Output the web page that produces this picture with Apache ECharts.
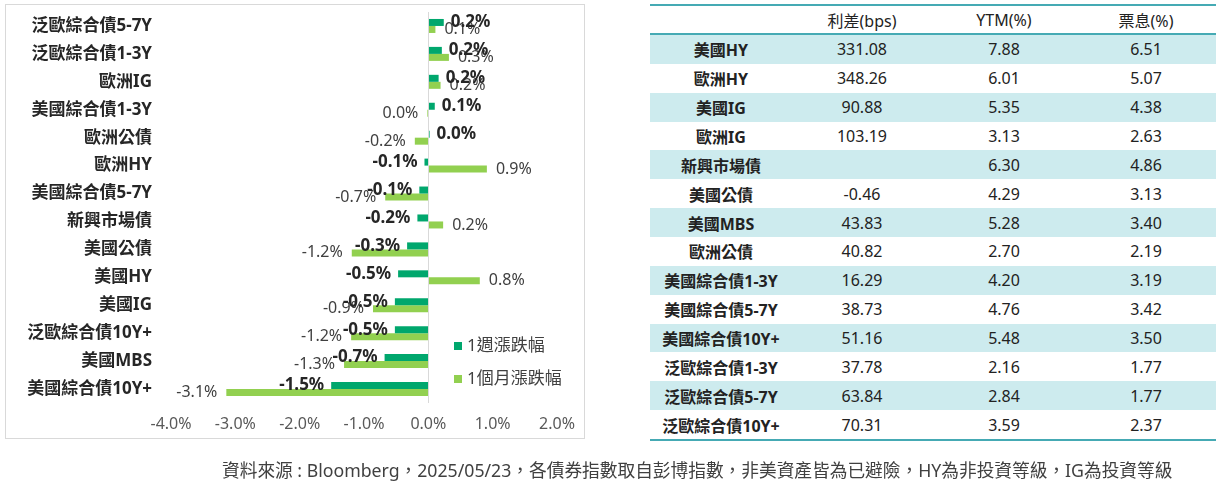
<!DOCTYPE html>
<html>
<head>
<meta charset="utf-8">
<script src="https://cdn.jsdelivr.net/npm/echarts@6/dist/echarts.min.js"></script>
<style>
  body { margin: 0; background: #fff; font-family: "Noto Sans", "Noto Sans CJK TC", sans-serif; }
  #frame { position: absolute; left: 5px; top: 4px; width: 578px; height: 433px; border: 1px solid #d9d9d9; }
  #main { position: absolute; left: 0; top: 0; width: 600px; height: 481px; }
  #tbl { position: absolute; left: 650px; top: 4px; width: 566px; border-collapse: collapse; color: #222; font-size: 16px; }
  #tbl th { font-weight: normal; height: 27px; padding: 0; border-top: 2px solid #45aab4; border-bottom: 2px solid #45aab4; }
  #tbl td { height: 28.86px; padding: 0; text-align: center; }
  #tbl td.lab { font-weight: bold; }
  #tbl tr.odd td { background: #cdebee; }
  #tbl tr:last-child td { border-bottom: 2px solid #45aab4; }
  #note { position: absolute; left: 222px; top: 456px; font-size: 17.7px; color: #404040; white-space: nowrap; }
</style>
</head>
<body>
<div id="frame"></div>
<div id="main"></div>
<table id="tbl"></table>
<div id="note">資料來源 : Bloomberg，2025/05/23，各債券指數取自彭博指數，非美資產皆為已避險，HY為非投資等級，IG為投資等級</div>
<script>
// 左圖：各債券指數漲跌幅 (%)
var categories = ['泛歐綜合債5-7Y', '泛歐綜合債1-3Y', '歐洲IG', '美國綜合債1-3Y', '歐洲公債', '歐洲HY', '美國綜合債5-7Y',
                  '新興市場債', '美國公債', '美國HY', '美國IG', '泛歐綜合債10Y+', '美國MBS', '美國綜合債10Y+'];
var weekChange  = [0.24, 0.21, 0.16, 0.10, 0.02, -0.06, -0.14, -0.17, -0.33, -0.47, -0.52, -0.52, -0.68, -1.51];
var monthChange = [0.11, 0.32, 0.19, -0.015, -0.21, 0.91, -0.67, 0.23, -1.19, 0.80, -0.86, -1.20, -1.31, -3.14];

// 右表
var tableHeader = ['', '利差(bps)', 'YTM(%)', '票息(%)'];
var tableNames  = ['美國HY', '歐洲HY', '美國IG', '歐洲IG', '新興市場債', '美國公債', '美國MBS', '歐洲公債',
                   '美國綜合債1-3Y', '美國綜合債5-7Y', '美國綜合債10Y+', '泛歐綜合債1-3Y', '泛歐綜合債5-7Y', '泛歐綜合債10Y+'];
var spreadBps = ['331.08', '348.26', '90.88', '103.19', '', '-0.46', '43.83', '40.82', '16.29', '38.73', '51.16', '37.78', '63.84', '70.31'];
var ytmPct    = ['7.88', '6.01', '5.35', '3.13', '6.30', '4.29', '5.28', '2.70', '4.20', '4.76', '5.48', '2.16', '2.84', '3.59'];
var couponPct = ['6.51', '5.07', '4.38', '2.63', '4.86', '3.13', '3.40', '2.19', '3.19', '3.42', '3.50', '1.77', '1.77', '2.37'];

var FONT = '"Noto Sans", "Noto Sans CJK TC", sans-serif';
var pct = function (v) {
    if (Math.abs(v) < 0.05) return '0.0%';
    return v.toFixed(1) + '%';
};

var myChart = echarts.init(document.getElementById('main'));
var option = {
    animation: false,
    textStyle: { fontFamily: FONT },
    grid: { left: 171, width: 386, top: 12, height: 391 },
    legend: {
        orient: 'vertical',
        left: 449, top: 332,
        icon: 'rect', itemWidth: 8, itemHeight: 8, itemGap: 15,
        textStyle: { fontSize: 17, color: '#404040', fontFamily: FONT, lineHeight: 18 },
        data: ['1週漲跌幅', '1個月漲跌幅']
    },
    xAxis: {
        type: 'value', min: -4, max: 2, interval: 1,
        axisLine: { show: false }, axisTick: { show: false }, splitLine: { show: false },
        axisLabel: { formatter: function (v) { return v.toFixed(1) + '%'; }, color: '#595959', fontSize: 16, margin: 13, fontFamily: FONT }
    },
    yAxis: {
        type: 'category', inverse: true, data: categories,
        axisLine: { show: false }, axisTick: { show: false },
        axisLabel: { color: '#262626', fontSize: 17, fontWeight: 'bold', margin: 19, fontFamily: FONT }
    },
    series: [{
        name: '1週漲跌幅', type: 'bar', data: weekChange,
        barWidth: 7, barGap: '0%',
        itemStyle: { color: '#00a76d' },
        label: { show: true, position: 'outside', distance: 7, formatter: function (p) { return pct(p.value); },
                 color: '#262626', fontSize: 17, fontWeight: 'bold', fontFamily: FONT },
        markLine: {
            silent: true, symbol: 'none', label: { show: false },
            lineStyle: { color: '#d9d9d9', width: 1, type: 'solid' },
            data: [{ xAxis: 0 }]
        },
        z: 3
    }, {
        name: '1個月漲跌幅', type: 'bar', data: monthChange,
        barWidth: 7,
        itemStyle: { color: '#92d050' },
        label: { show: true, position: 'outside', distance: 9, formatter: function (p) { return pct(p.value); },
                 color: '#404040', fontSize: 16, fontFamily: FONT }
    }]
};
myChart.setOption(option);

// 表格
var tbl = document.getElementById('tbl');
var html = '<tr>' + tableHeader.map(function (h, i) {
    var w = [142, 140, 144, 140][i];
    return '<th style="width:' + w + 'px">' + h + '</th>';
}).join('') + '</tr>';
tableNames.forEach(function (name, i) {
    html += '<tr class="' + (i % 2 === 0 ? 'odd' : 'even') + '">' +
        '<td class="lab">' + name + '</td><td>' + spreadBps[i] + '</td><td>' + ytmPct[i] + '</td><td>' + couponPct[i] + '</td></tr>';
});
tbl.innerHTML = html;
</script>
</body>
</html>
